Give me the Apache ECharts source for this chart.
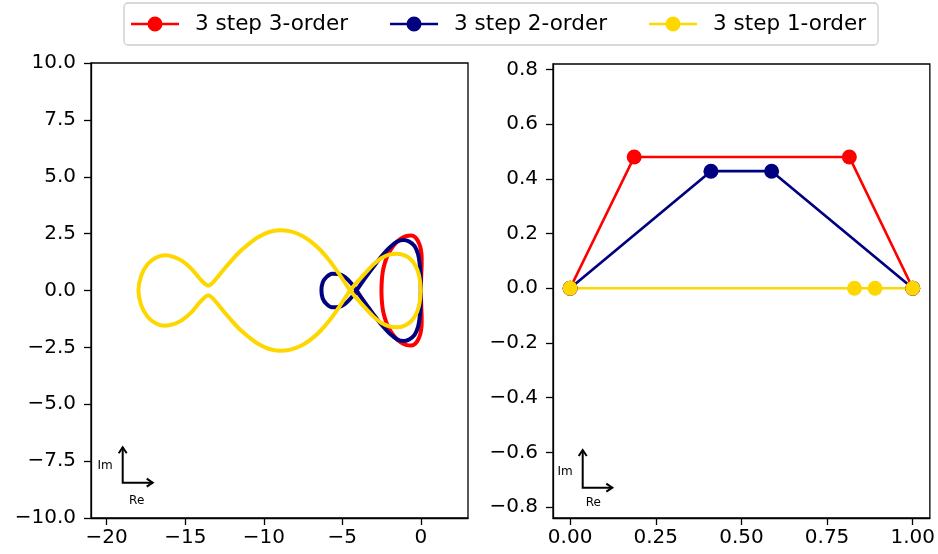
<!DOCTYPE html>
<html>
<head>
<meta charset="utf-8">
<script src="https://cdn.jsdelivr.net/npm/echarts@6/dist/echarts.min.js"></script>
<style>
  html, body { margin: 0; padding: 0; background: #fff; }
  #chart { width: 938px; height: 554px; }
</style>
</head>
<body>
<div id="chart"></div>
<script>
// Series names and colours
const seriesNames = ['3 step 3-order', '3 step 2-order', '3 step 1-order'];
const seriesColors = ['#ff0000', '#000080', '#ffd700'];

// Stability boundaries |R(z)| = 1 as [Re, Im] points
const boundary3rd = [
  [-2.51, 0], [-2.49, 0.4], [-2.43, 0.8], [-2.31, 1.17], [-2.13, 1.52], [-1.9, 1.82],
  [-1.62, 2.07], [-1.3, 2.27], [-0.95, 2.39], [-0.62, 2.42], [-0.36, 2.34], [-0.16, 2.14],
  [-0.04, 1.92], [0.02, 1.7], [0.05, 1.45], [0.05, 1.15], [0.03, 0.8], [0.01, 0.4], [0, 0],
  [0.01, -0.4], [0.03, -0.8], [0.05, -1.15], [0.05, -1.45], [0.02, -1.7], [-0.04, -1.92],
  [-0.16, -2.14], [-0.36, -2.34], [-0.62, -2.42], [-0.95, -2.39], [-1.3, -2.27], [-1.62, -2.07],
  [-1.9, -1.82], [-2.13, -1.52], [-2.31, -1.17], [-2.43, -0.8], [-2.49, -0.4], [-2.51, 0]
];
const boundary2nd = [
  [0, 0], [-0.01, 0.4], [-0.03, 0.8], [-0.08, 1.2], [-0.18, 1.6], [-0.4, 1.95], [-0.75, 2.15],
  [-1.1, 2.22], [-1.5, 2.15], [-1.97, 1.9], [-2.45, 1.55], [-2.85, 1.2], [-3.3, 0.78],
  [-3.72, 0.38], [-4.1, 0],
  [-4.45, -0.33], [-4.85, -0.6], [-5.25, -0.73], [-5.65, -0.74], [-6.0, -0.6], [-6.25, -0.35],
  [-6.33, 0],
  [-6.25, 0.35], [-6.0, 0.6], [-5.65, 0.74], [-5.25, 0.73], [-4.85, 0.6], [-4.45, 0.33],
  [-4.1, 0],
  [-3.72, -0.38], [-3.3, -0.78], [-2.85, -1.2], [-2.45, -1.55], [-1.97, -1.9], [-1.5, -2.15],
  [-1.1, -2.22], [-0.75, -2.15], [-0.4, -1.95], [-0.18, -1.6], [-0.08, -1.2], [-0.03, -0.8],
  [-0.01, -0.4], [0, 0]
];
const boundary1st = [
  [0, 0], [-0.04, 0.34], [-0.13, 0.7], [-0.32, 1.06], [-0.62, 1.35], [-1.0, 1.53], [-1.5, 1.62],
  [-2.0, 1.58], [-2.5, 1.43], [-3.0, 1.16], [-3.5, 0.8], [-4.0, 0.41], [-4.5, 0],
  [-5.2, -0.72], [-5.8, -1.3], [-6.4, -1.78], [-7.0, -2.15], [-7.6, -2.42], [-8.3, -2.6],
  [-9.0, -2.65], [-9.7, -2.56], [-10.4, -2.33], [-11.0, -2.02], [-11.6, -1.66], [-12.1, -1.28],
  [-12.6, -0.88], [-13.0, -0.54], [-13.53, -0.22],
  [-14.06, -0.51], [-14.6, -0.95], [-15.2, -1.3], [-15.75, -1.48], [-16.3, -1.55],
  [-16.85, -1.45], [-17.4, -1.15], [-17.8, -0.65], [-17.98, 0],
  [-17.8, 0.65], [-17.4, 1.15], [-16.85, 1.45], [-16.3, 1.55], [-15.75, 1.48], [-15.2, 1.3],
  [-14.6, 0.95], [-14.06, 0.51], [-13.53, 0.22],
  [-13.0, 0.54], [-12.6, 0.88], [-12.1, 1.28], [-11.6, 1.66], [-11.0, 2.02], [-10.4, 2.33],
  [-9.7, 2.56], [-9.0, 2.65], [-8.3, 2.6], [-7.6, 2.42], [-7.0, 2.15], [-6.4, 1.78],
  [-5.8, 1.3], [-5.2, 0.72], [-4.5, 0],
  [-4.0, -0.41], [-3.5, -0.8], [-3.0, -1.16], [-2.5, -1.43], [-2.0, -1.58], [-1.5, -1.62],
  [-1.0, -1.53], [-0.62, -1.35], [-0.32, -1.06], [-0.13, -0.7], [-0.04, -0.34], [0, 0]
];

// Complex step nodes for each scheme
const nodes3rd = [[0, 0], [0.187, 0.48], [0.815, 0.48], [1, 0]];
const nodes2nd = [[0, 0], [0.411, 0.428], [0.588, 0.428], [1, 0]];
const nodes1st = [[0, 0], [0.83, 0], [0.89, 0], [1, 0]];

// Tick values
const leftXTicks = [-20, -15, -10, -5, 0];
const leftYTicks = [-10, -7.5, -5, -2.5, 0, 2.5, 5, 7.5, 10];
const rightXTicks = [0, 0.25, 0.5, 0.75, 1];
const rightYTicks = [-0.8, -0.6, -0.4, -0.2, 0, 0.2, 0.4, 0.6, 0.8];

const FONT = 'DejaVu Sans';
const boundaries = [boundary3rd, boundary2nd, boundary1st];
const nodeSets = [nodes3rd, nodes2nd, nodes1st];

function fmt(v, digits) {
  return v.toFixed(digits).replace('-', '\u2212');
}

function valueAxis(gridIndex, min, max, ticks, digits, margin) {
  return {
    type: 'value', gridIndex, min, max, scale: true,
    axisLine: { show: true, onZero: false, lineStyle: { color: '#000', width: 1.3 } },
    axisTick: { show: true, inside: false, length: 7, customValues: ticks,
                lineStyle: { color: '#000', width: 1.3 } },
    axisLabel: { show: true, margin, color: '#000', fontFamily: FONT, fontSize: 20,
                 customValues: ticks, formatter: v => fmt(v, digits) },
    splitLine: { show: false }
  };
}

// Small "Im / Re" orientation marker
function axesMarker(cx, cy, upLen, rightLen, imPos, rePos) {
  const s = { stroke: '#000', lineWidth: 2, fill: null };
  return {
    type: 'group', silent: true,
    children: [
      { type: 'polyline', shape: { points: [[cx, cy - upLen], [cx, cy], [cx + rightLen, cy]] }, style: s },
      { type: 'polyline', shape: { points: [[cx - 4, cy - upLen + 6], [cx, cy - upLen], [cx + 4, cy - upLen + 6]] }, style: s },
      { type: 'polyline', shape: { points: [[cx + rightLen - 6, cy - 4], [cx + rightLen, cy], [cx + rightLen - 6, cy + 4]] }, style: s },
      { type: 'text', x: imPos[0], y: imPos[1], style: { text: 'Im', fontFamily: FONT, fontSize: 12, fill: '#000', align: 'center', verticalAlign: 'middle' } },
      { type: 'text', x: rePos[0], y: rePos[1], style: { text: 'Re', fontFamily: FONT, fontSize: 12, fill: '#000', align: 'center', verticalAlign: 'middle' } }
    ]
  };
}

const legendIcon = 'path://M0,6.2 L48,6.2 L48,8.8 L0,8.8 Z M31.5,7.5 A7.5,7.5 0 1 1 16.5,7.5 A7.5,7.5 0 1 1 31.5,7.5 Z';

const series = [];
seriesNames.forEach((name, i) => {
  series.push({
    name, type: 'line', xAxisIndex: 0, yAxisIndex: 0, data: boundaries[i],
    showSymbol: false, symbol: 'none', smooth: 0.35, silent: true,
    lineStyle: { color: seriesColors[i], width: 4 }, itemStyle: { color: seriesColors[i] }
  });
});
seriesNames.forEach((name, i) => {
  series.push({
    name, type: 'line', xAxisIndex: 1, yAxisIndex: 1, data: nodeSets[i],
    symbol: 'circle', symbolSize: 15, showSymbol: true, showAllSymbol: true, silent: true,
    lineStyle: { color: seriesColors[i], width: 2.7 }, itemStyle: { color: seriesColors[i] }
  });
});

const chart = echarts.init(document.getElementById('chart'), null, { renderer: 'canvas' });
chart.setOption({
  animation: false,
  backgroundColor: '#fff',
  legend: {
    data: seriesNames.map(n => ({ name: n, icon: legendIcon })),
    left: 124, top: 3,
    itemWidth: 48, itemHeight: 15, itemGap: 42,
    padding: [10, 12, 10, 7],
    borderColor: '#cccccc', borderWidth: 1.3, borderRadius: 4, backgroundColor: '#fff',
    selectedMode: false,
    textStyle: { fontFamily: FONT, fontSize: 21.5, color: '#000', padding: [0, 0, 0, 11] }
  },
  grid: [
    { left: 91, top: 63, width: 377, height: 455, show: true, borderColor: '#000', borderWidth: 1.3, containLabel: false },
    { left: 553, top: 64, width: 377, height: 454, show: true, borderColor: '#000', borderWidth: 1.3, containLabel: false }
  ],
  xAxis: [
    valueAxis(0, -21, 3, leftXTicks, 0, 10),
    valueAxis(1, -0.05, 1.05, rightXTicks, 2, 10)
  ],
  yAxis: [
    valueAxis(0, -10, 10, leftYTicks, 1, 15),
    valueAxis(1, -0.84, 0.82, rightYTicks, 1, 15)
  ],
  graphic: [
    axesMarker(122.7, 482.7, 35.4, 30, [105, 466], [136.7, 500.7]),
    axesMarker(582.7, 487.7, 37.7, 29.6, [565, 471.7], [593.3, 503.3])
  ],
  series
});
</script>
</body>
</html>
